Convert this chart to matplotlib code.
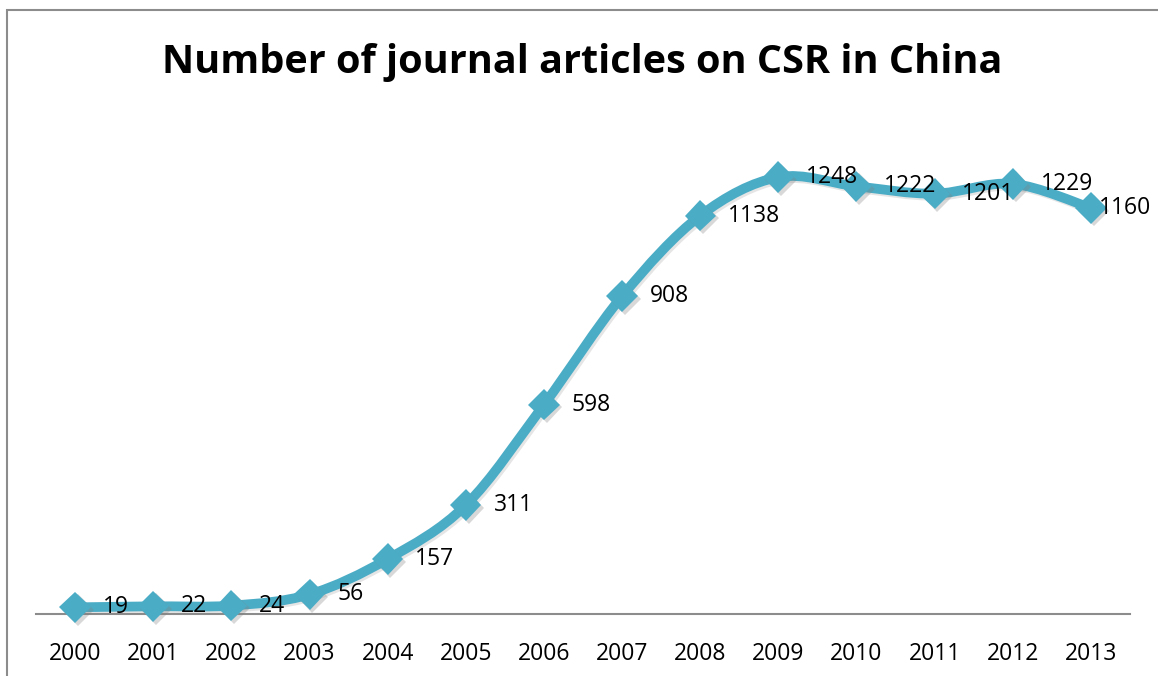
import numpy as np
import matplotlib.pyplot as plt
import matplotlib.patheffects as pe
from matplotlib.patches import Rectangle, PathPatch
from matplotlib.path import Path

# Journal articles on CSR published in China, per year
years = ["2000", "2001", "2002", "2003", "2004", "2005", "2006",
         "2007", "2008", "2009", "2010", "2011", "2012", "2013"]
articles = [19, 22, 24, 56, 157, 311, 598, 908, 1138, 1248, 1222, 1201, 1229, 1160]

plt.rcParams['font.family'] = ['Open Sans', 'DejaVu Sans']

W, H = 1158, 676
fig = plt.figure(figsize=(W / 100, H / 100), dpi=100)
fig.patch.set_facecolor('white')

# chart frame (runs off the right and bottom edges)
fig.patches.append(Rectangle((7 / W, -0.05), 1.2, 1 - 10 / H + 0.05,
                             transform=fig.transFigure, fill=False,
                             edgecolor='#8c8c8c', linewidth=1.5))

ax = fig.add_axes([36 / W, 62 / H, (1130 - 36) / W, (614 - 124) / H])
x = np.arange(len(years), dtype=float)
y = np.array(articles, dtype=float)
color = '#4BACC6'
shadow = [pe.SimplePatchShadow(offset=(2, -2), shadow_rgbFace='gray', alpha=0.3),
          pe.Normal()]


def smooth_path(xs, ys):
    # cubic Bezier through every point, spreadsheet-style smoothed line
    pts = np.column_stack([xs, ys])
    verts = [pts[0]]
    codes = [Path.MOVETO]
    n = len(pts)
    for i in range(n - 1):
        p0 = pts[max(i - 1, 0)]
        p1 = pts[i]
        p2 = pts[i + 1]
        p3 = pts[min(i + 2, n - 1)]
        c1 = p1 + (p2 - p0) / 6.0
        c2 = p2 - (p3 - p1) / 6.0
        verts += [c1, c2, p2]
        codes += [Path.CURVE4] * 3
    return Path(verts, codes)


curve = PathPatch(smooth_path(x, y), fill=False, edgecolor=color, linewidth=7,
                  capstyle='round', joinstyle='round', clip_on=False, zorder=3)
curve.set_path_effects([pe.SimpleLineShadow(offset=(1.5, -1.5), shadow_color='gray',
                                            alpha=0.2), pe.Normal()])
ax.add_patch(curve)
ax.plot(x, y, linestyle='none', marker='D', markersize=16, color=color,
        markeredgewidth=0, path_effects=shadow, clip_on=False, zorder=4)

for i, (xi, v) in enumerate(zip(x, articles)):
    # the last label is pulled in so it stays inside the chart area
    dx = 6 if i == len(articles) - 1 else 20
    ax.annotate(str(v), (xi, v), xytext=(dx, 0), textcoords='offset points',
                ha='left', va='center', fontsize=16.5, color='black', zorder=5)

ax.set_xlim(-0.5, len(years) - 0.5)
ax.set_ylim(0, 1400)
ax.set_xticks(x)
ax.set_xticklabels(years, fontsize=16.5)
ax.tick_params(axis='x', length=0, pad=20)
ax.set_yticks([])
for side in ['left', 'right', 'top']:
    ax.spines[side].set_visible(False)
ax.spines['bottom'].set_color('#8c8c8c')
ax.spines['bottom'].set_linewidth(1.5)
ax.set_facecolor('none')

fig.text(582 / W, 1 - 62 / H, 'Number of journal articles on CSR in China',
         ha='center', va='center', fontsize=28.5, fontweight='bold')

fig.savefig('out.png', dpi=100)
